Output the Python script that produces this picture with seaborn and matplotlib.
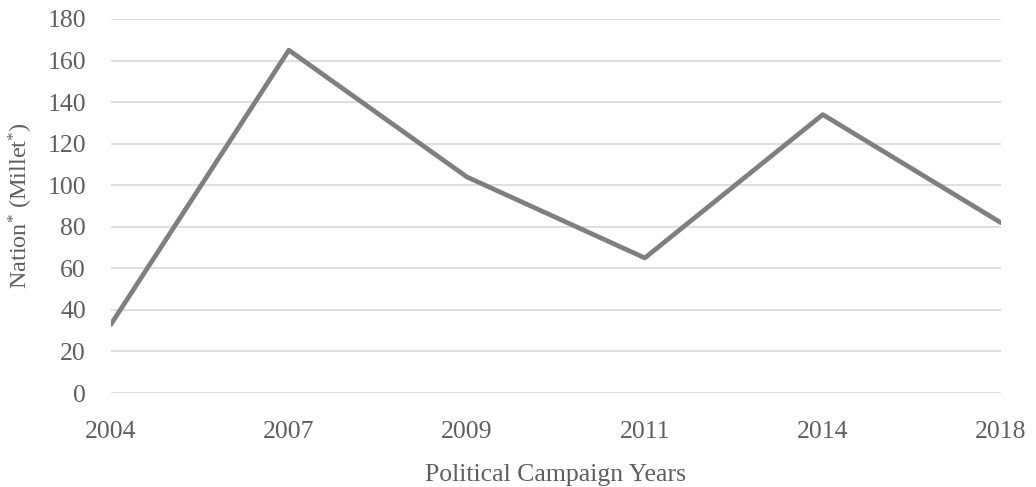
import matplotlib
matplotlib.use("Agg")
import matplotlib.pyplot as plt
import seaborn as sns
import pandas as pd

# data
years = ["2004", "2007", "2009", "2011", "2014", "2018"]
values = [33, 165, 104, 65, 134, 82]

df = pd.DataFrame({"year": years, "value": values})

sns.set_theme(style="white")
plt.rcParams["font.family"] = ["Liberation Serif", "DejaVu Serif"]
plt.rcParams["mathtext.fontset"] = "custom"
plt.rcParams["mathtext.rm"] = "Liberation Serif"
plt.rcParams["mathtext.it"] = "Liberation Serif"

text_color = "#5f5f5f"

fig = plt.figure(figsize=(10.36, 4.87), dpi=100)
ax = fig.add_axes([0.107, 0.193, 0.859, 0.768])

sns.lineplot(data=df, x="year", y="value", ax=ax, color="#7f7f7f",
             linewidth=3.4, sort=False)

ax.set_xlim(0, len(years) - 1)
ax.set_ylim(0, 180)
ax.set_yticks(range(0, 181, 20))
ax.yaxis.grid(True, color="#d9d9d9", linewidth=1.2)
ax.xaxis.grid(False)
for s in ax.spines.values():
    s.set_visible(False)

ax.tick_params(axis="both", colors=text_color, labelsize=18.5, length=0)
ax.tick_params(axis="x", pad=20)
ax.tick_params(axis="y", pad=18)

ax.set_xlabel("Political Campaign Years", color=text_color, fontsize=18.5, labelpad=15)
ax.set_ylabel("Nation$^{*}$ (Millet$^{*}$)", color=text_color, fontsize=17.5, labelpad=9)

fig.savefig("out.png", dpi=100)
